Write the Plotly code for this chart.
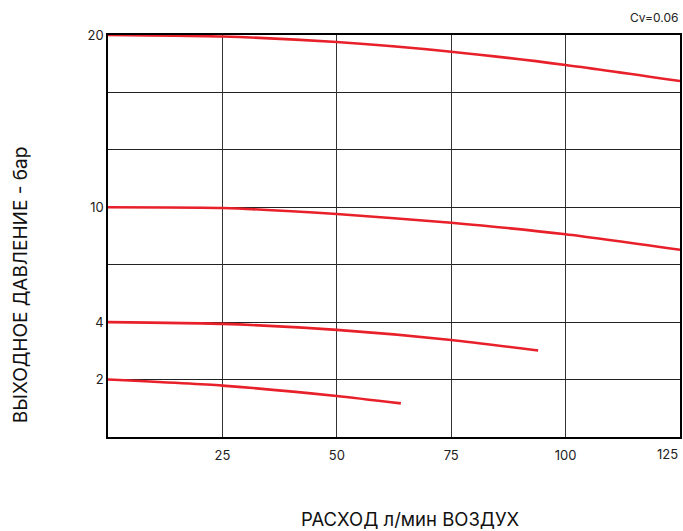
import numpy as np
import plotly.graph_objects as go

# Flow (l/min air) and outlet pressure (bar)
flow_20 = [0, 25, 50, 75, 100, 125]
pres_20 = [20.0, 19.91, 19.59, 19.03, 18.26, 17.33]

flow_10 = [0, 25, 50, 75, 100, 125]
pres_10 = [10.0, 9.96, 9.65, 9.19, 8.59, 7.78]

flow_4 = [0, 25, 50, 75, 94]
pres_4 = [4.0, 3.94, 3.73, 3.38, 3.01]

flow_2 = [0, 25, 50, 64]
pres_2 = [2.0, 1.79, 1.43, 1.17]

# Non-uniform pressure axis: bar value -> grid step
scale_bar = [0, 2, 4, 10, 20]
scale_step = [0, 1, 2, 4, 7]
y_tick_labels = ["2", "4", "10", "20"]
x_tick_vals = [25, 50, 75, 100]


def to_axis(p):
    return np.interp(p, scale_bar, scale_step)


fig = go.Figure()
for fx, py in [(flow_20, pres_20), (flow_10, pres_10), (flow_4, pres_4), (flow_2, pres_2)]:
    fig.add_trace(go.Scatter(
        x=fx, y=to_axis(py), mode="lines",
        line=dict(color="#e8202a", width=2.6, shape="spline", smoothing=0.6),
        showlegend=False, hoverinfo="skip", cliponaxis=False,
    ))

fig.update_layout(
    width=683, height=531,
    margin=dict(l=108, r=1, t=35, b=94),
    paper_bgcolor="white", plot_bgcolor="white",
    font=dict(family="Inter, Roboto, sans-serif", color="#222", size=13),
    showlegend=False,
)

fig.update_xaxes(
    range=[0, 125], tickvals=x_tick_vals, ticks="", showgrid=True,
    gridcolor="#333", gridwidth=1, showline=True, linecolor="black",
    linewidth=1.5, mirror=True, zeroline=False,
    tickfont=dict(size=13, color="#222"), ticklabelstandoff=6,
)
fig.update_yaxes(
    range=[0, 7], tickvals=[1, 2, 4, 7], ticktext=y_tick_labels, ticks="",
    showgrid=True, gridcolor="#222", gridwidth=1,
    minor=dict(dtick=1, tick0=0, showgrid=True, gridcolor="#222", gridwidth=1),
    showline=True, linecolor="black", linewidth=1.5, mirror=True, zeroline=False,
    tickfont=dict(size=13, color="#222"), ticklabelstandoff=0,
)

fig.add_annotation(x=125, y=0, xref="x", yref="y", text="125", showarrow=False,
                   xanchor="right", yanchor="top", yshift=-7,
                   font=dict(size=13, color="#222"))
fig.add_annotation(x=1, y=1, xref="paper", yref="paper", text="Cv=0.06", showarrow=False,
                   xanchor="right", yanchor="bottom", yshift=8,
                   font=dict(size=12, color="#222"))
# Axis titles (pixel placements, converted to paper fractions below)
fig.add_annotation(x=412, y=12, xref="paper", yref="paper", text="РАСХОД л/мин ВОЗДУХ",
                   showarrow=False, xanchor="center", yanchor="middle",
                   font=dict(size=18.5, color="#111"))
fig.add_annotation(x=20, y=246, xref="paper", yref="paper", text="ВЫХОДНОЕ ДАВЛЕНИЕ - бар",
                   showarrow=False, textangle=-90, xanchor="center", yanchor="middle",
                   font=dict(size=19, color="#111"))

pw, ph = 683 - 108 - 1, 531 - 35 - 94
for ann in fig.layout.annotations[2:]:
    ann.x = (ann.x - 108) / pw
    ann.y = (ann.y - 94) / ph

fig.write_html(
    "out.html",
    config={"displayModeBar": False},
    post_script="document.body.style.margin='0';document.body.style.overflow='hidden';",
)
